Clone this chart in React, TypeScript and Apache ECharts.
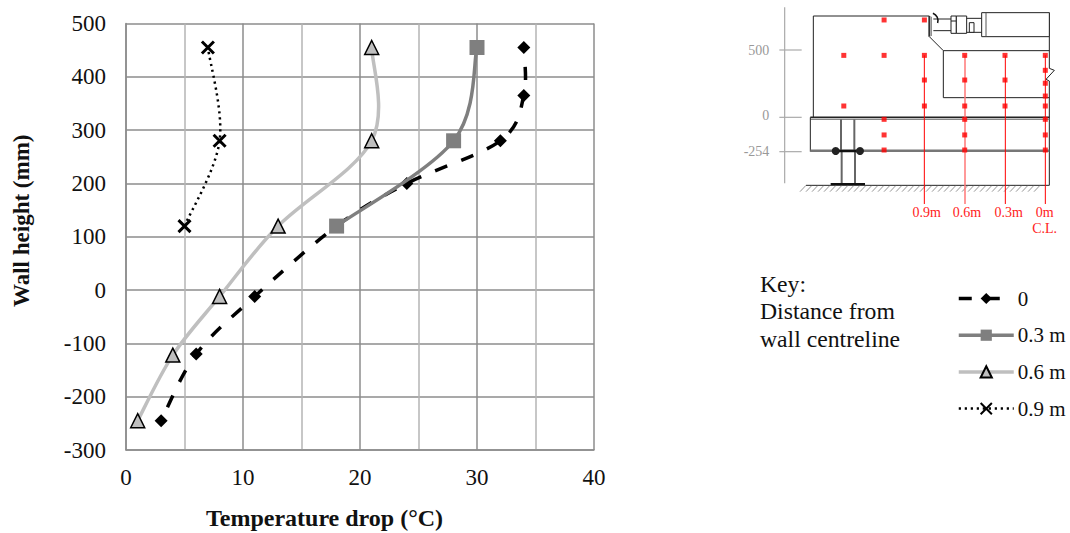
import React, { useEffect, useRef } from "react";
import * as echarts from "echarts";

const series0 = [[3, -245], [6, -120], [11, -12], [18, 120], [24, 200], [32, 280], [34, 365], [34, 455]];
const series03 = [[18, 120], [28, 280], [30, 455]];
const series06 = [[1, -245], [4, -122], [8, -12], [13, 120], [21, 280], [21, 455]];
const series09 = [[5, 120], [8, 280], [7, 455]];
const sensors = [
  [1.5, 460], [1.5, 84],
  [1.2, 723], [1.2, 460], [1.2, -15], [1.2, -131], [1.2, -243],
  [0.9, 723], [0.9, 460], [0.9, 277], [0.9, 84],
  [0.6, 460], [0.6, 277], [0.6, 84], [0.6, -15], [0.6, -131], [0.6, -243],
  [0.3, 460], [0.3, 277], [0.3, 84],
  [0, 460], [0, 349], [0, 253], [0, 158], [0, 84], [0, -15], [0, -131], [0, -243],
];
const sectionTicks = [["500", 150], ["0", 347], ["-254", 455]] as const;
const sectionLabels = [["0.9m", 620, 637], ["0.6m", 741, 637], ["0.3m", 866, 637], ["0m", 974, 637], ["C.L.", 974, 685]] as const;
const FONT = "'Liberation Serif', serif";
const CROSS = "path://M0 0L10 10M10 0L0 10";

const styles = {
  s0: { color: "#000", width: 3.5, dash: [13, 15], offset: 13 },
  s3: { color: "#7f7f7f", width: 3.5, dash: null, offset: 0 },
  s6: { color: "#bfbfbf", width: 3.5, dash: null, offset: 0 },
  s9: { color: "#000", width: 2.5, dash: [2.2, 3.8], offset: 0 },
};

const px = (z: number) => 720 + z / 3;
const py = (z: number) => z / 3;
const line = (x1: number, y1: number, x2: number, y2: number, stroke = "#222", lineWidth = 1) => ({
  type: "line",
  shape: { x1: px(x1), y1: py(y1), x2: px(x2), y2: py(y2) },
  style: { stroke, lineWidth },
  silent: true,
});
const poly = (pts: number[][], stroke = "#222", lineWidth = 1) => ({
  type: "polyline",
  shape: { points: pts.map(([a, b]) => [px(a), py(b)]) },
  style: { stroke, lineWidth, fill: "none" },
  silent: true,
});
const box = (x1: number, y1: number, x2: number, y2: number, stroke = "#222", lineWidth = 1) => ({
  type: "rect",
  shape: { x: px(x1), y: py(y1), width: (x2 - x1) / 3, height: (y2 - y1) / 3 },
  style: { stroke, lineWidth, fill: "#fff" },
  silent: true,
});

function sectionDrawing() {
  const out: any[] = [];
  out.push(line(194, 22, 194, 550, "#aaa", 1.2));
  for (const y of [150, 352, 455]) out.push(line(178, y, 245, y, "#aaa", 1.2));
  for (const [t, y] of sectionTicks) {
    out.push({
      type: "text", x: px(148), y: py(y),
      style: { text: t, fill: "#999", font: `14px ${FONT}`, textAlign: "right", textVerticalAlign: "middle" },
    });
  }
  out.push(poly([[280, 352], [280, 48], [628, 48]]));
  out.push(poly([[628, 110], [670, 152], [988, 152]]));
  out.push(poly([[988, 293], [670, 293], [670, 152]]));
  out.push(poly([[988, 38], [988, 205], [1003, 211], [978, 238], [988, 243], [988, 556]]));
  out.push(line(271, 352, 988, 352, "#222", 1.5));
  out.push(line(271, 358, 988, 358, "#888", 1.5));
  out.push(line(271, 352, 271, 455, "#222", 1));
  out.push(line(271, 452, 988, 452, "#777", 2.5));
  out.push(line(258, 556, 988, 556, "#222", 1));
  for (let x = 258; x <= 975; x += 18) out.push(line(x, 556, x - 18, 575, "#666", 0.7));
  for (const x of [363, 403]) {
    out.push(line(x, 358, x, 450, "#666", 2));
    out.push(line(x + 2, 456, x + 2, 552, "#666", 2));
  }
  out.push(line(332, 552, 435, 552, "#111", 2));
  out.push(line(345, 453, 420, 453, "#111", 2.5));
  for (const x of [347, 420]) {
    out.push({ type: "circle", shape: { cx: px(x), cy: py(453), r: 4 }, style: { fill: "#222" }, silent: true });
  }
  out.push(line(628, 48, 628, 110, "#333", 2));
  out.push(line(634, 50, 634, 108, "#888", 1.2));
  out.push(line(640, 57, 693, 57, "#222", 1));
  out.push(line(640, 92, 693, 92, "#222", 1));
  out.push(box(693, 48, 709, 100));
  out.push(line(693, 63, 709, 63));
  out.push(box(709, 48, 740, 100));
  out.push(line(740, 55, 785, 55));
  out.push(line(740, 97, 785, 97));
  out.push(box(748, 68, 762, 97));
  out.push(box(785, 38, 988, 110));
  out.push(line(798, 38, 798, 110, "#555", 1));
  out.push({
    type: "arc",
    shape: { cx: px(630), cy: py(62), r: 8, startAngle: -1.2, endAngle: 0.3 },
    style: { stroke: "#111", lineWidth: 1.5, fill: "none" },
    silent: true,
  });
  out.push(line(613, 166, 613, 612, "#f00", 1));
  out.push(line(735, 166, 735, 612, "#f77", 1.5));
  out.push(line(856, 166, 856, 612, "#f00", 1));
  out.push(line(976, 166, 976, 612, "#f00", 1));
  for (const [t, x, y] of sectionLabels) {
    out.push({
      type: "text", x: px(x), y: py(y),
      style: { text: t, fill: "#f22", font: `14px ${FONT}`, textAlign: "center", textVerticalAlign: "middle" },
    });
  }
  return out;
}

// Spreadsheet-style smoothed line through the data points (may overshoot, unlike the line series' smoothing).
function curve(name: string, data: number[][], st: { color: string; width: number; dash: number[] | null; offset: number }, z: number) {
  return {
    name,
    type: "custom",
    coordinateSystem: "cartesian2d",
    data,
    silent: true,
    z,
    renderItem: (params: any, api: any) => {
      if (params.dataIndex !== 0) return null;
      const p = data.map((d) => api.coord(d));
      let d = `M${p[0][0]} ${p[0][1]}`;
      for (let i = 0; i < p.length - 1; i++) {
        const a = p[Math.max(i - 1, 0)], b = p[i], c = p[i + 1], e = p[Math.min(i + 2, p.length - 1)];
        d += `C${b[0] + (c[0] - a[0]) / 6} ${b[1] + (c[1] - a[1]) / 6} ${c[0] - (e[0] - b[0]) / 6} ${c[1] - (e[1] - b[1]) / 6} ${c[0]} ${c[1]}`;
      }
      return {
        type: "path",
        shape: { pathData: d },
        style: { fill: "none", stroke: st.color, lineWidth: st.width, lineDash: st.dash || undefined, lineDashOffset: st.offset },
      };
    },
  };
}

const legendItem = (name: string, st: { color: string; width: number; dash: number[] | null }) => ({
  name,
  lineStyle: { color: st.color, width: st.width, type: st.dash || "solid", opacity: 1 },
});

export default function App() {
  const ref = useRef<HTMLDivElement>(null);
  useEffect(() => {
    const chart = echarts.init(ref.current!, null, { renderer: "svg" });
    const hidden = { width: 0, opacity: 0 };
    chart.setOption({
      animation: false,
      backgroundColor: "#fff",
      textStyle: { fontFamily: FONT },
      grid: [
        { left: 126, top: 23.5, width: 468, height: 426.5, outerBoundsMode: "none" },
        { left: 803.5, top: 9.6, width: 241.8, height: 148.1, outerBoundsMode: "none" },
      ],
      legend: {
        left: 957,
        top: 288,
        padding: 0,
        orient: "vertical",
        itemWidth: 55,
        itemHeight: 14,
        itemGap: 15.7,
        data: [
          legendItem("0", styles.s0),
          legendItem("0.3 m", styles.s3),
          legendItem("0.6 m", styles.s6),
          legendItem("0.9 m", styles.s9),
        ],
        textStyle: { fontFamily: FONT, fontSize: 21, color: "#111", padding: [0, 0, 0, -1] },
      },
      xAxis: [
        {
          type: "value", gridIndex: 0, min: 0, max: 40, interval: 10,
          name: "Temperature drop (°C)", nameLocation: "middle", nameGap: 56,
          nameTextStyle: { fontFamily: FONT, fontSize: 24, fontWeight: "bold", color: "#111", padding: [0, 71, 0, 0] },
          axisLine: { onZero: false, lineStyle: { color: "#8c8c8c", width: 1.5 } },
          axisTick: { show: false },
          axisLabel: { fontFamily: FONT, fontSize: 23, color: "#111", margin: 16 },
          splitLine: { show: true, lineStyle: { color: "#8c8c8c", width: 1.5 } },
          minorSplitLine: { show: true, lineStyle: { color: "#b5b5b5", width: 1.5 } },
          minorTick: { show: false, splitNumber: 2 },
        },
        { type: "value", gridIndex: 1, min: 0, max: 1.8, inverse: true, show: false },
      ],
      yAxis: [
        {
          type: "value", gridIndex: 0, min: -300, max: 500, interval: 100,
          name: "Wall height (mm)", nameLocation: "middle", nameGap: 93,
          nameTextStyle: { fontFamily: FONT, fontSize: 23, fontWeight: "bold", color: "#111", padding: [0, 0, 0, 32] },
          axisLine: { onZero: false, lineStyle: { color: "#8c8c8c", width: 1.5 } },
          axisTick: { show: false },
          axisLabel: { fontFamily: FONT, fontSize: 23, color: "#111", margin: 20 },
          splitLine: { show: true, lineStyle: { color: "#8c8c8c", width: 1.5 } },
        },
        { type: "value", gridIndex: 1, min: -300, max: 800, show: false },
      ],
      series: [
        curve("0 curve", series0, styles.s0, 3),
        {
          name: "0", type: "line", z: 3, data: series0, symbol: "diamond", symbolSize: 13,
          lineStyle: hidden, itemStyle: { color: "#000" },
        },
        curve("0.3 m curve", series03, styles.s3, 4),
        {
          name: "0.3 m", type: "line", z: 4, data: series03, symbol: "rect", symbolSize: 15,
          lineStyle: hidden, itemStyle: { color: "#7f7f7f" },
        },
        curve("0.6 m curve", series06, styles.s6, 5),
        {
          name: "0.6 m", type: "line", z: 5, data: series06, symbol: "triangle", symbolSize: 14,
          lineStyle: hidden, itemStyle: { color: "#bfbfbf", borderColor: "#000", borderWidth: 1.5 },
        },
        curve("0.9 m curve", series09, styles.s9, 6),
        {
          name: "0.9 m", type: "line", z: 6, data: series09, symbol: CROSS, symbolSize: 12,
          lineStyle: hidden, itemStyle: { color: "none", borderColor: "#000", borderWidth: 3 },
        },
        {
          name: "Sensors", type: "scatter", xAxisIndex: 1, yAxisIndex: 1, data: sensors,
          symbol: "rect", symbolSize: 5, itemStyle: { color: "#f00" },
        },
      ],
      graphic: [
        ...sectionDrawing(),
        {
          type: "text", x: 760, y: 270,
          style: { text: "Key:\nDistance from\nwall centreline", fill: "#111", font: `23.7px ${FONT}`, lineHeight: 27.5 },
        },
      ],
    });
    return () => chart.dispose();
  }, []);
  return <div ref={ref} style={{ position: "fixed", left: 0, top: 0, width: 1070, height: 533 }} />;
}
